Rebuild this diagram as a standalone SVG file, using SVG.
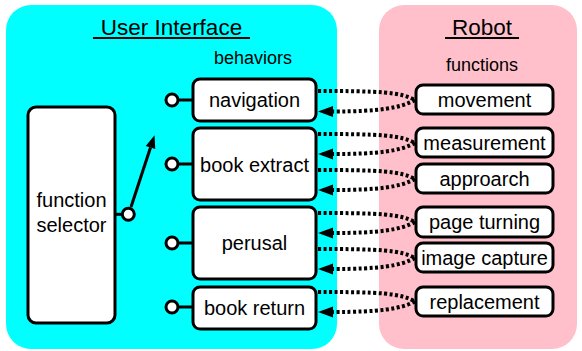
<svg xmlns="http://www.w3.org/2000/svg" width="582" height="351" viewBox="0 0 582 351">
<style>
text{font-family:"Liberation Sans",Arial,sans-serif;fill:#000;text-anchor:middle}
.lbl{font-size:20px}
.sub{font-size:18px}
.ttl{font-size:22.5px}
.box{fill:#fff;stroke:#000;stroke-width:3}
.pin{fill:#fff;stroke:#000;stroke-width:3}
.stub{stroke:#000;stroke-width:3;fill:none}
.dot{fill:none;stroke:#000;stroke-width:4;stroke-dasharray:3 2.5}
</style>
<defs>
<marker id="ah" markerUnits="userSpaceOnUse" markerWidth="16" markerHeight="12" refX="0" refY="5.5" orient="auto" overflow="visible">
<path d="M0,0 L15,5.5 L0,11 z" fill="#000"/>
</marker>
<marker id="ah2" markerUnits="userSpaceOnUse" markerWidth="14" markerHeight="12" refX="0" refY="5" orient="auto" overflow="visible">
<path d="M0,0 L13,5 L0,10 z" fill="#000"/>
</marker>
</defs>
<g id="panel-ui">
<rect x="6" y="5" width="331" height="344" rx="25" fill="#00ffff"/>
<text class="ttl" x="171.5" y="35">User Interface</text>
<line x1="93" y1="38" x2="250" y2="38" stroke="#000" stroke-width="2"/>
<text class="sub" x="253" y="64">behaviors</text>
</g>
<g id="panel-robot">
<rect x="379" y="5" width="198" height="344" rx="25" fill="#ffc0cb"/>
<text class="ttl" x="482" y="35">Robot</text>
<line x1="445" y1="38" x2="519" y2="38" stroke="#000" stroke-width="2"/>
<text class="sub" x="482" y="71">functions</text>
</g>
<g id="function-selector">
<rect class="box" x="28" y="107" width="87" height="216" rx="8"/>
<text class="lbl" x="71.5" y="207">function</text>
<text class="lbl" x="71.5" y="231.5">selector</text>
<line class="stub" x1="115" y1="214.3" x2="122" y2="214.3"/>
<line class="stub" x1="131" y1="207" x2="150.5" y2="147.5" marker-end="url(#ah2)"/>
<circle class="pin" cx="128.3" cy="214.3" r="6"/>
</g>
<g id="navigation">
<line class="stub" x1="178" y1="100" x2="193" y2="100"/>
<circle class="pin" cx="172" cy="100" r="6"/>
<rect class="box" x="193" y="79" width="123" height="42" rx="7"/>
<text class="lbl" x="254.5" y="107">navigation</text>
</g>
<g id="book-extract">
<line class="stub" x1="178" y1="164" x2="193" y2="164"/>
<circle class="pin" cx="172" cy="164" r="6"/>
<rect class="box" x="193" y="128" width="123" height="72" rx="7"/>
<text class="lbl" x="254.5" y="171.5">book extract</text>
</g>
<g id="perusal">
<line class="stub" x1="178" y1="243" x2="193" y2="243"/>
<circle class="pin" cx="172" cy="243" r="6"/>
<rect class="box" x="193" y="207" width="123" height="72" rx="7"/>
<text class="lbl" x="254.5" y="250">perusal</text>
</g>
<g id="book-return">
<line class="stub" x1="178" y1="307" x2="193" y2="307"/>
<circle class="pin" cx="172" cy="307" r="6"/>
<rect class="box" x="193" y="287" width="123" height="42" rx="7"/>
<text class="lbl" x="254.5" y="315">book return</text>
</g>
<g id="movement">
<rect class="box" x="416" y="85" width="137" height="29" rx="7"/>
<text class="lbl" x="484.5" y="106.5">movement</text>
</g>
<g id="measurement">
<rect class="box" x="416" y="128" width="137" height="29" rx="7"/>
<text class="lbl" x="484.5" y="149.5">measurement</text>
</g>
<g id="approarch">
<rect class="box" x="416" y="164" width="137" height="29" rx="7"/>
<text class="lbl" x="484.5" y="185.5">approarch</text>
</g>
<g id="page-turning">
<rect class="box" x="416" y="207" width="137" height="30" rx="7"/>
<text class="lbl" x="484.5" y="229">page turning</text>
</g>
<g id="image-capture">
<rect class="box" x="416" y="243" width="137" height="29" rx="7"/>
<text class="lbl" x="484.5" y="264.5">image capture</text>
</g>
<g id="replacement">
<rect class="box" x="416" y="287" width="137" height="29" rx="7"/>
<text class="lbl" x="484.5" y="308.5">replacement</text>
</g>
<g id="connectors">
<path class="dot" d="M318,91 C380,91 400,92 415,100"/>
<path class="dot" d="M415,100 C400,108 380,111.5 333,111.5" marker-end="url(#ah)"/>
<path class="dot" d="M318,134 C380,134 400,135 415,143"/>
<path class="dot" d="M415,143 C400,151 380,154 333,154" marker-end="url(#ah)"/>
<path class="dot" d="M318,170 C380,170 400,171 415,179"/>
<path class="dot" d="M415,179 C400,187 380,190 333,190" marker-end="url(#ah)"/>
<path class="dot" d="M318,213 C380,213 400,214 415,222"/>
<path class="dot" d="M415,222 C400,230 380,233 333,233" marker-end="url(#ah)"/>
<path class="dot" d="M318,249 C380,249 400,250 415,258"/>
<path class="dot" d="M415,258 C400,266 380,269 333,269" marker-end="url(#ah)"/>
<path class="dot" d="M318,292 C380,292 400,293 415,301.5"/>
<path class="dot" d="M415,301.5 C400,309 380,312 333,312" marker-end="url(#ah)"/>
</g>
</svg>
